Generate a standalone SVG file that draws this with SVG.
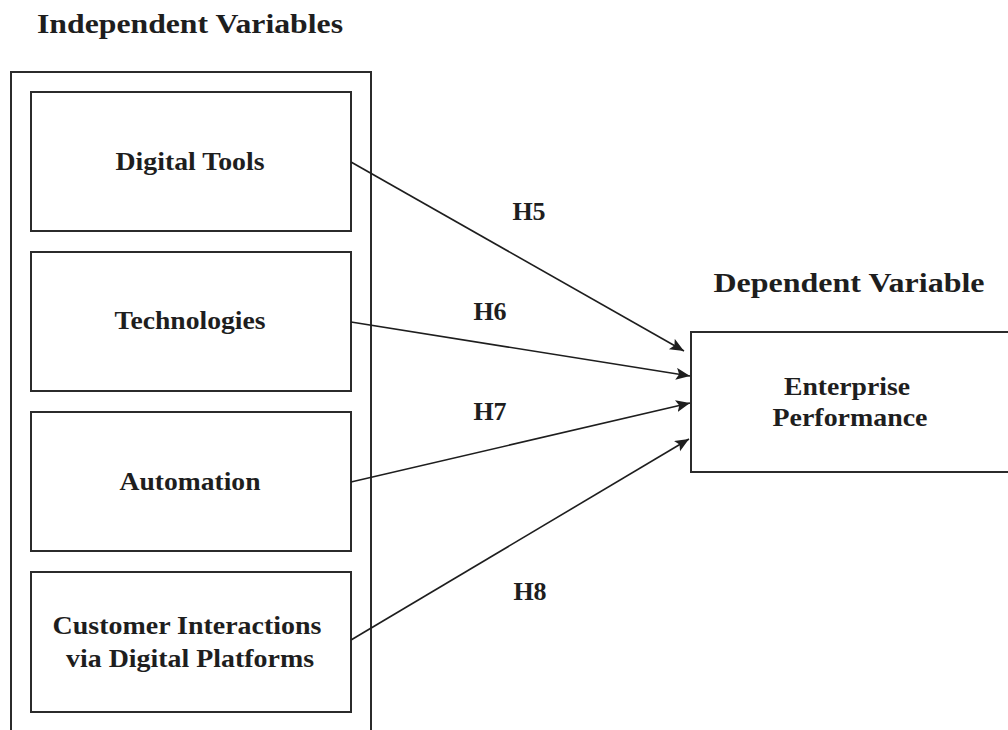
<svg xmlns="http://www.w3.org/2000/svg" width="1008" height="730" viewBox="0 0 1008 730">
<style>
.box{fill:#fff;stroke:#2b2b2b;stroke-width:2}
.t{font-family:"Liberation Serif","Times New Roman",serif;font-weight:bold;fill:#1e1e1e;text-anchor:middle}
.n{font-size:26px}
.h{font-size:28px}
.c{stroke:#1e1e1e;stroke-width:1.6;fill:none}
</style>
<defs>
<marker id="ah" markerUnits="userSpaceOnUse" markerWidth="16" markerHeight="14" refX="14" refY="6" orient="auto">
<path d="M0,0 L14,6 L0,12 L3,6 Z" fill="#1e1e1e"/>
</marker>
</defs>
<rect width="1008" height="730" fill="#fff"/>
<g id="title-independent"><text class="t h" x="190" y="33" textLength="306" lengthAdjust="spacingAndGlyphs">Independent Variables</text></g>
<g id="container"><rect class="box" x="11" y="72" width="360" height="700"/></g>
<g id="digital-tools"><rect class="box" x="31" y="92" width="320" height="139"/><text class="t n" x="190" y="170" textLength="149" lengthAdjust="spacingAndGlyphs">Digital Tools</text></g>
<g id="technologies"><rect class="box" x="31" y="252" width="320" height="139"/><text class="t n" x="190" y="329" textLength="151" lengthAdjust="spacingAndGlyphs">Technologies</text></g>
<g id="automation"><rect class="box" x="31" y="412" width="320" height="139"/><text class="t n" x="190" y="490" textLength="141" lengthAdjust="spacingAndGlyphs">Automation</text></g>
<g id="customer"><rect class="box" x="31" y="572" width="320" height="140"/><text class="t n" x="187" y="634" textLength="269" lengthAdjust="spacingAndGlyphs">Customer Interactions</text><text class="t n" x="190" y="667" textLength="248" lengthAdjust="spacingAndGlyphs">via Digital Platforms</text></g>
<g id="title-dependent"><text class="t h" x="849" y="292" textLength="271" lengthAdjust="spacingAndGlyphs">Dependent Variable</text></g>
<g id="enterprise"><rect class="box" x="691" y="332" width="330" height="140"/><text class="t n" x="847" y="395" textLength="126" lengthAdjust="spacingAndGlyphs">Enterprise</text><text class="t n" x="850" y="426" textLength="155" lengthAdjust="spacingAndGlyphs">Performance</text></g>
<g id="connectors">
<line class="c" x1="351" y1="162" x2="684" y2="351" marker-end="url(#ah)"/>
<line class="c" x1="351" y1="322" x2="690" y2="376" marker-end="url(#ah)"/>
<line class="c" x1="351" y1="482" x2="690" y2="403" marker-end="url(#ah)"/>
<line class="c" x1="351" y1="640" x2="689" y2="439" marker-end="url(#ah)"/>
<text class="t n" x="529" y="220">H5</text>
<text class="t n" x="490" y="320">H6</text>
<text class="t n" x="490" y="420">H7</text>
<text class="t n" x="530" y="600">H8</text>
</g>
</svg>
